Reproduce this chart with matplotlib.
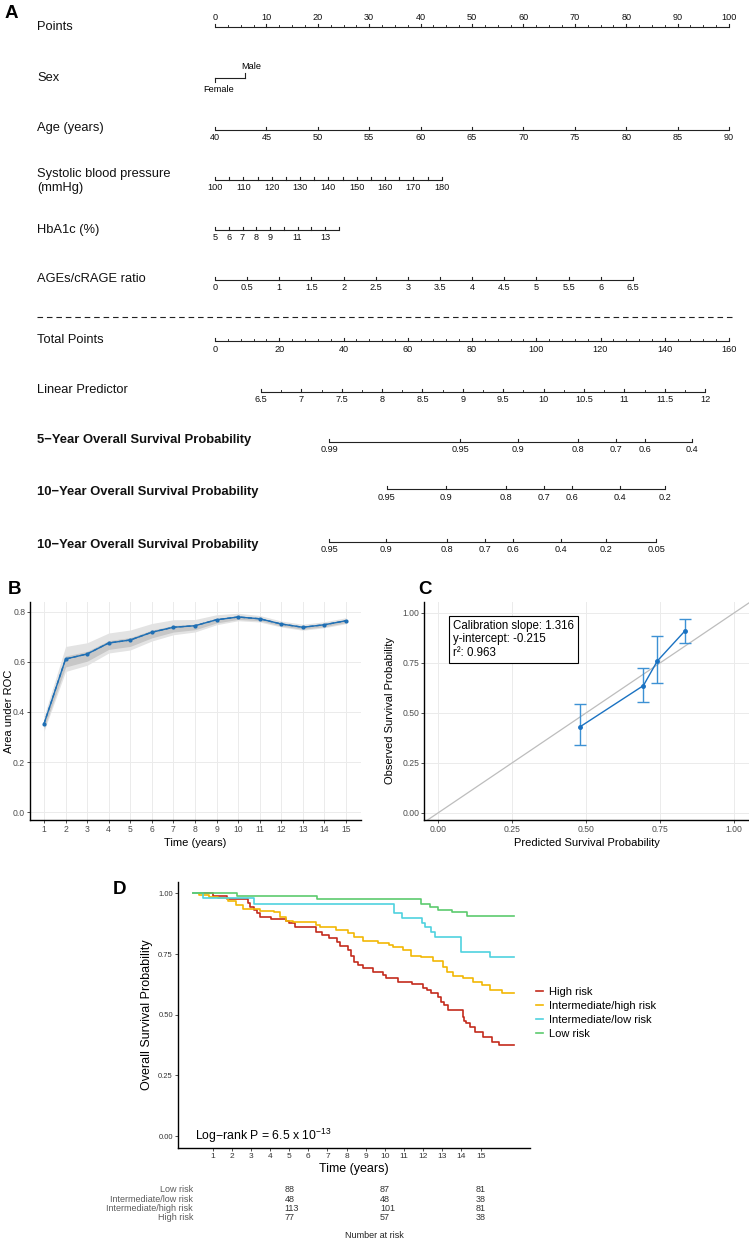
import numpy as np
import matplotlib
matplotlib.use("Agg")
import matplotlib.pyplot as plt
from matplotlib.lines import Line2D
import matplotlib.transforms as mtrans

plt.rcParams['font.family'] = ['Liberation Sans', 'DejaVu Sans']
plt.rcParams['mathtext.fontset'] = 'custom'
plt.rcParams['mathtext.rm'] = 'Liberation Sans'
plt.rcParams['mathtext.it'] = 'Liberation Sans:italic'
plt.rcParams['mathtext.bf'] = 'Liberation Sans:bold'

# ---------------- Panel A data (nomogram) ----------------
points_major = list(range(0, 101, 10))
points_minor = list(np.arange(0, 100.1, 2.5))
sex_levels = ["Female", "Male"]
sex_points = [0.0, 5.8]
age_values = [40, 45, 50, 55, 60, 65, 70, 75, 80, 85, 90]
age_points_range = (0.0, 100.0)
sbp_values = list(range(100, 181, 5))
sbp_labels = list(range(100, 181, 10))
sbp_points_range = (0.0, 44.1)
hba1c_values = list(range(5, 15))
hba1c_labels = [5, 6, 7, 8, 9, 11, 13]
hba1c_points_range = (0.0, 24.1)
ages_values = list(np.arange(0, 6.51, 0.5))
ages_points_range = (0.0, 81.3)
total_major = list(range(0, 161, 20))
total_minor = list(range(0, 161, 4))
total_max = 160
lp_values = list(np.arange(6.5, 12.01, 0.25))
lp_labels = list(np.arange(6.5, 12.01, 0.5))
lp_total_range = (14.3, 152.6)
surv5_vals = [0.99, 0.95, 0.9, 0.8, 0.7, 0.6, 0.4]
surv5_total = [35.5, 76.3, 94.3, 113.0, 124.8, 133.9, 148.5]
surv10_vals = [0.95, 0.9, 0.8, 0.7, 0.6, 0.4, 0.2]
surv10_total = [53.5, 71.9, 90.6, 102.4, 111.1, 126.1, 140.1]
surv10b_vals = [0.95, 0.9, 0.8, 0.7, 0.6, 0.4, 0.2, 0.05]
surv10b_total = [35.5, 53.2, 72.2, 84.0, 92.8, 107.7, 121.7, 137.3]

# ---------------- Panel B data (time-dependent AUC) ----------------
auc_time = list(range(1, 16))
auc_vals = [0.353, 0.612, 0.632, 0.676, 0.688, 0.719, 0.739, 0.745,
            0.769, 0.780, 0.773, 0.752, 0.739, 0.749, 0.765]
auc_outer = [0.03, 0.05, 0.045, 0.04, 0.04, 0.035, 0.03, 0.025,
             0.02, 0.015, 0.013, 0.012, 0.012, 0.012, 0.012]
auc_inner = [0.012, 0.02, 0.018, 0.016, 0.016, 0.014, 0.012, 0.01,
             0.008, 0.006, 0.005, 0.005, 0.005, 0.005, 0.005]

# ---------------- Panel C data (calibration) ----------------
cal_pred = [0.48, 0.694, 0.741, 0.834]
cal_obs = [0.431, 0.637, 0.760, 0.910]
cal_low = [0.340, 0.557, 0.648, 0.852]
cal_high = [0.545, 0.723, 0.885, 0.968]

# ---------------- Panel D data (Kaplan-Meier) ----------------
km_end = 16.75
low_t = [0, 2.26, 6.44, 11.9, 12.36, 12.8, 13.5, 14.28]
low_s = [1.0, 0.989, 0.977, 0.956, 0.945, 0.932, 0.922, 0.907]
il_t = [0, 0.48, 3.17, 10.45, 10.88, 11.93, 12.1, 12.4, 12.6, 13.96, 15.5]
il_s = [1.0, 0.979, 0.957, 0.918, 0.897, 0.876, 0.860, 0.842, 0.819, 0.759, 0.739]
ih_t = [0, 0.3, 0.8, 1.3, 1.8, 2.2, 2.6, 2.9, 3.45, 4.23, 4.5, 4.85, 5.2, 6.06,
        6.4, 6.6, 7.45, 8.07, 8.4, 8.85, 9.63, 10.24, 10.4, 10.94, 11.38, 11.9,
        12.53, 13.02, 13.23, 13.58, 14.1, 14.62, 15.06, 15.5, 16.1]
ih_s = [1.0, 0.993, 0.985, 0.979, 0.970, 0.952, 0.937, 0.934, 0.929, 0.924,
        0.904, 0.887, 0.883, 0.880, 0.870, 0.860, 0.849, 0.838, 0.821, 0.804,
        0.794, 0.788, 0.778, 0.767, 0.743, 0.737, 0.722, 0.698, 0.677, 0.661,
        0.650, 0.636, 0.622, 0.602, 0.588]
hi_t = [0, 1.0, 1.76, 2.84, 2.95, 3.17, 3.3, 3.5, 4.05, 4.85, 5.0, 5.3, 6.4,
        6.72, 7.1, 7.5, 7.63, 8.07, 8.24, 8.4, 8.59, 8.85, 9.37, 9.9, 10.07,
        10.7, 11.4, 12.0, 12.2, 12.4, 12.8, 12.95, 13.1, 13.32, 14.07, 14.15,
        14.25, 14.45, 14.71, 15.15, 15.58, 15.97]
hi_s = [1.0, 0.989, 0.977, 0.960, 0.945, 0.931, 0.918, 0.904, 0.894, 0.886,
        0.876, 0.863, 0.842, 0.828, 0.815, 0.801, 0.785, 0.767, 0.743, 0.718,
        0.705, 0.691, 0.677, 0.663, 0.650, 0.636, 0.627, 0.611, 0.602, 0.591,
        0.571, 0.554, 0.540, 0.519, 0.490, 0.475, 0.464, 0.450, 0.430, 0.409,
        0.389, 0.375]
groups = ["High risk", "Intermediate/high risk", "Intermediate/low risk", "Low risk"]
group_colors = ["#c42b1c", "#f2b705", "#4fd2df", "#5ccb6e"]
risk_times = [5, 10, 15]
risk_rows = ["Low risk", "Intermediate/low risk", "Intermediate/high risk", "High risk"]
risk_counts = [[88, 87, 81], [48, 48, 38], [113, 101, 81], [77, 57, 38]]

# ================= Figure =================
W, H = 749, 1241
fig = plt.figure(figsize=(W / 100, H / 100), dpi=100)


def add_ax(l, t, r, b):
    return fig.add_axes([l / W, 1 - b / H, (r - l) / W, (b - t) / H])


# ---------------- Panel A ----------------
PX0, PXS = 215.0, 5.14
axA = add_ax(0, 0, 749, 560)
axA.set_xlim(-PX0 / PXS, (W - PX0) / PXS)
axA.set_ylim(560, 0)
axA.axis('off')
LC = '#222222'
LW = 0.8
TFS = 6.6


def px2x(px):
    return (px - PX0) / PXS


def lin_map(vals, vrange, prange):
    v0, v1 = vrange
    p0, p1 = prange
    return [p0 + (v - v0) * (p1 - p0) / (v1 - v0) for v in vals]


def fmt(v):
    return ('%g' % round(v, 3))


def draw_scale(y, tick_pos, lab_pos, lab_txt, minor_pos=(), above=False,
               tlen=3.5, fs=TFS):
    allp = list(tick_pos) + list(minor_pos)
    axA.plot([min(allp), max(allp)], [y, y], color=LC, lw=LW,
             solid_capstyle='butt')
    for p in tick_pos:
        axA.plot([p, p], [y, y - tlen], color=LC, lw=LW)
    for p in minor_pos:
        axA.plot([p, p], [y, y - 1.8], color=LC, lw=LW * 0.8)
    for p, s in zip(lab_pos, lab_txt):
        if above:
            axA.text(p, y - 5.5, s, ha='center', va='bottom', fontsize=fs,
                     color='#111111')
        else:
            axA.text(p, y + 3.5, s, ha='center', va='top', fontsize=fs,
                     color='#111111')


def row_label(y, txt, bold=False):
    axA.text(px2x(37), y, txt, ha='left', va='center',
             fontsize=9.4 if bold else 9.3,
             fontweight='bold' if bold else 'normal', color='#111111',
             linespacing=1.2)


# Points
row_label(27, "Points")
draw_scale(27, points_major, points_major, [fmt(v) for v in points_major],
           minor_pos=points_minor, above=True)
# Sex
row_label(78, "Sex")
axA.plot(sex_points, [78, 78], color=LC, lw=LW)
axA.plot([sex_points[0]] * 2, [78, 82], color=LC, lw=LW)
axA.plot([sex_points[1]] * 2, [78, 73], color=LC, lw=LW)
axA.text(sex_points[0] + 0.8, 84.5, sex_levels[0], ha='center', va='top', fontsize=TFS)
axA.text(sex_points[1] + 1.3, 71, sex_levels[1], ha='center', va='bottom', fontsize=TFS)
# Age
row_label(128, "Age (years)")
ap = lin_map(age_values, (age_values[0], age_values[-1]), age_points_range)
draw_scale(130, ap, ap, [fmt(v) for v in age_values])
# SBP
row_label(181, "Systolic blood pressure\n(mmHg)")
sp = lin_map(sbp_values, (sbp_values[0], sbp_values[-1]), sbp_points_range)
spl = lin_map(sbp_labels, (sbp_values[0], sbp_values[-1]), sbp_points_range)
draw_scale(180, sp, spl, [fmt(v) for v in sbp_labels])
# HbA1c
row_label(230, "HbA1c (%)")
hp = lin_map(hba1c_values, (hba1c_values[0], hba1c_values[-1]), hba1c_points_range)
hpl = lin_map(hba1c_labels, (hba1c_values[0], hba1c_values[-1]), hba1c_points_range)
draw_scale(230, hp, hpl, [fmt(v) for v in hba1c_labels])
# AGEs/cRAGE
row_label(279, "AGEs/cRAGE ratio")
gp = lin_map(ages_values, (ages_values[0], ages_values[-1]), ages_points_range)
draw_scale(280, gp, gp, [fmt(v) for v in ages_values])
# dashed separator
axA.plot([px2x(37), px2x(733)], [317, 317], color=LC, lw=LW, ls=(0, (5, 3.5)))


def tot2x(tp):
    return [t * 100.0 / total_max for t in tp]


# Total points
row_label(340, "Total Points")
draw_scale(341, tot2x(total_major), tot2x(total_major),
           [fmt(v) for v in total_major], minor_pos=tot2x(total_minor))
# Linear predictor
row_label(390, "Linear Predictor")
lpp = tot2x(lin_map(lp_values, (lp_values[0], lp_values[-1]), lp_total_range))
lpl = tot2x(lin_map(lp_labels, (lp_values[0], lp_values[-1]), lp_total_range))
draw_scale(392, lpl, lpl, [fmt(v) for v in lp_labels], minor_pos=lpp)
# Survival
row_label(440, "5\u2212Year Overall Survival Probability", bold=True)
draw_scale(442, tot2x(surv5_total), tot2x(surv5_total), [fmt(v) for v in surv5_vals])
row_label(492, "10\u2212Year Overall Survival Probability", bold=True)
draw_scale(489, tot2x(surv10_total), tot2x(surv10_total), [fmt(v) for v in surv10_vals])
row_label(545, "10\u2212Year Overall Survival Probability", bold=True)
draw_scale(542, tot2x(surv10b_total), tot2x(surv10b_total), [fmt(v) for v in surv10b_vals])

# ---------------- Panel label helper ----------------
def panel_label(x, y, s):
    fig.text(x / W, 1 - y / H, s, fontsize=13.5, fontweight='bold',
             ha='left', va='center')


panel_label(5, 13, "A")
panel_label(8, 590, "B")
panel_label(418, 590, "C")
panel_label(113, 889, "D")

GRID = '#ebebeb'
TXT = '#4d4d4d'


def gg_axes(ax):
    for s in ['top', 'right']:
        ax.spines[s].set_visible(False)
    for s in ['left', 'bottom']:
        ax.spines[s].set_linewidth(1.0)
        ax.spines[s].set_color('black')
    ax.grid(True, color=GRID, lw=0.7)
    ax.set_axisbelow(True)
    ax.tick_params(length=2, width=0.6, color='#333333', labelsize=6.2,
                   labelcolor=TXT, pad=1.5)


# ---------------- Panel B ----------------
axB = add_ax(30, 602, 361, 820)
gg_axes(axB)
t = np.array(auc_time)
v = np.array(auc_vals)
o = np.array(auc_outer)
i_ = np.array(auc_inner)
axB.fill_between(t, v - o, v + o, color='#e3e3e3', lw=0)
axB.fill_between(t, v - i_ * 1.6, v + i_ * 0.6, color='#c4c4c4', lw=0, alpha=0.9)
axB.plot(t, v, color='#1f6fb4', lw=1.0, marker='o', ms=2.0)
axB.plot(t, v, color='#1f6fb4', lw=1.0, ls=(0, (3, 2)))
axB.set_xlim(0.35, 15.7)
axB.set_ylim(-0.032, 0.84)
axB.set_xticks(auc_time)
axB.set_yticks([0.0, 0.2, 0.4, 0.6, 0.8])
axB.set_yticklabels(["0.0", "0.2", "0.4", "0.6", "0.8"])
axB.set_xlabel("Time (years)", fontsize=8, labelpad=3)
axB.set_ylabel("Area under ROC", fontsize=8)
axB.yaxis.set_label_coords((14 - 30) / 331, 0.5)

# ---------------- Panel C ----------------
axC = add_ax(424, 602, 749, 820)
gg_axes(axC)
axC.set_xlim(-0.047, 1.0507)
axC.set_ylim(-0.035, 1.055)
axC.axline((0, 0), slope=1, color='#bdbdbd', lw=0.9)
axC.errorbar(cal_pred, cal_obs,
             yerr=[np.array(cal_obs) - np.array(cal_low),
                   np.array(cal_high) - np.array(cal_obs)],
             fmt='none', ecolor='#3d91d4', elinewidth=1.0, capsize=4.5, capthick=1.0)
axC.plot(cal_pred, cal_obs, color='#1a72c2', lw=1.0, marker='o', ms=2.5)
ticksC = [0.0, 0.25, 0.5, 0.75, 1.0]
axC.set_xticks(ticksC)
axC.set_yticks(ticksC)
axC.set_xticklabels(["0.00", "0.25", "0.50", "0.75", "1.00"])
axC.set_yticklabels(["0.00", "0.25", "0.50", "0.75", "1.00"])
axC.set_xlabel("Predicted Survival Probability", fontsize=8, labelpad=3)
axC.set_ylabel("Observed Survival Probability", fontsize=8)
axC.yaxis.set_label_coords((395 - 424) / 325, 0.5)
axC.text(0.052, 0.965, "Calibration slope: 1.316\ny-intercept: -0.215\nr\u00b2: 0.963",
         transform=axC.transData, ha='left', va='top', fontsize=8.3,
         linespacing=1.15,
         bbox=dict(boxstyle='square,pad=0.35', fc='white', ec='black', lw=0.8))

# ---------------- Panel D ----------------
axD = add_ax(177.8, 881.7, 529.6, 1148)
for s in ['top', 'right']:
    axD.spines[s].set_visible(False)
for s in ['left', 'bottom']:
    axD.spines[s].set_linewidth(1.0)
axD.tick_params(length=2, width=0.6, color='#333333', labelsize=6,
                labelcolor='#333333', pad=1.5)
curves = [(hi_t, hi_s), (ih_t, ih_s), (il_t, il_s), (low_t, low_s)]
handles = []
for (tt, ss), c, name in zip(curves, group_colors, groups):
    axD.step(list(tt) + [km_end], list(ss) + [ss[-1]], where='post',
             color=c, lw=1.2)
    handles.append(Line2D([0], [0], color=c, lw=1.2))
axD.set_xlim(-0.82, 17.56)
axD.set_ylim(-0.049, 1.048)
axD.set_xticks(list(range(1, 16)))
axD.set_yticks([0.0, 0.25, 0.5, 0.75, 1.0])
axD.set_yticklabels(["0.00", "0.25", "0.50", "0.75", "1.00"], fontsize=5.5)
axD.set_xlabel("Time (years)", fontsize=9, labelpad=2)
axD.set_ylabel("Overall Survival Probability", fontsize=9, labelpad=4)
axD.text(0.1, 0.0, "Log\u2212rank P = 6.5 x 10$^{\\mathregular{-13}}$",
         fontsize=8.8, ha='left', va='center')
fig.legend(handles, groups, loc='upper left', bbox_to_anchor=(536 / W, 1 - 987 / H),
           frameon=False, fontsize=8, handlelength=0.6, handletextpad=0.6,
           labelspacing=0.35, borderaxespad=0, borderpad=0)

# risk table
tr = mtrans.blended_transform_factory(axD.transData, fig.transFigure)
row_y = [1190, 1199.3, 1208.6, 1218]
for name, counts, yy in zip(risk_rows, risk_counts, row_y):
    fig.text(193 / W, 1 - yy / H, name, ha='right', va='center', fontsize=6.5,
             color='#5a5a5a')
    for tt, cnt in zip(risk_times, counts):
        fig.text(tt - 0.25, 1 - yy / H, str(cnt), transform=tr, ha='left',
                 va='center', fontsize=6.5, color='#333333')
fig.text(374 / W, 1 - 1235 / H, "Number at risk", ha='center', va='center',
         fontsize=6.5, color='#222222')

fig.savefig("out.png", dpi=100)
